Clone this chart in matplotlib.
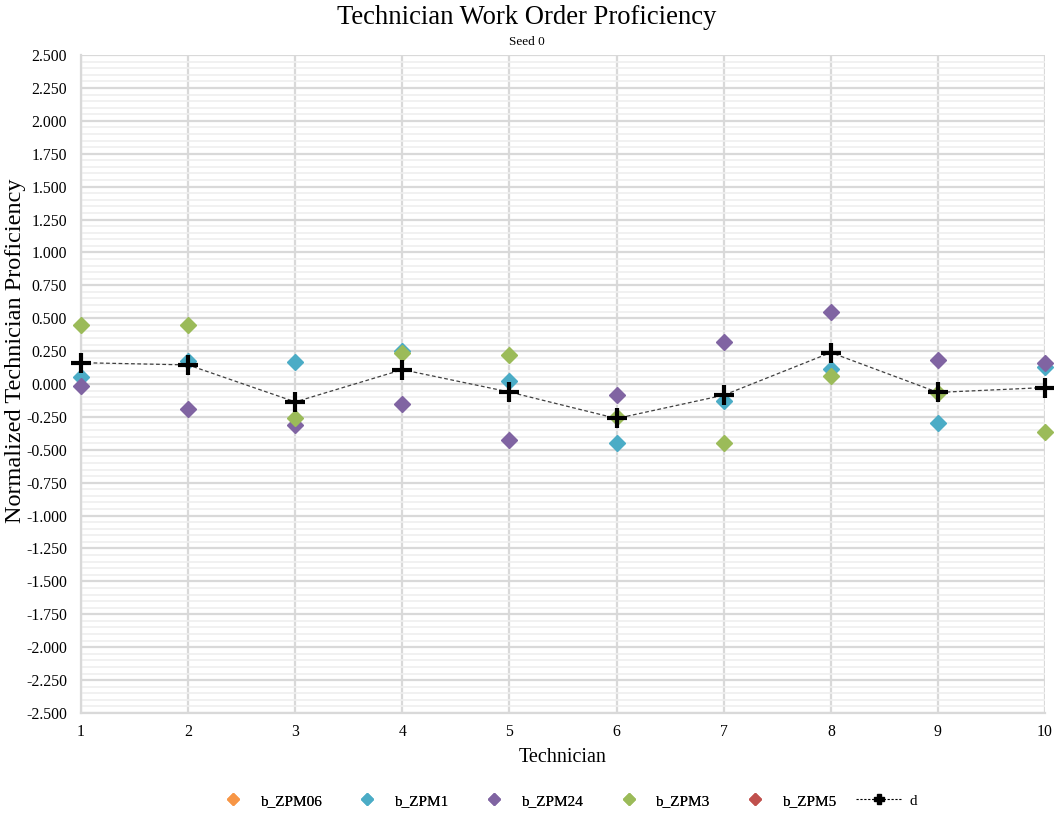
import matplotlib
matplotlib.use('Agg')
import matplotlib.pyplot as plt
from matplotlib.ticker import MultipleLocator, FormatStrFormatter

technicians = [1, 2, 3, 4, 5, 6, 7, 8, 9, 10]

b_zpm06 = []
b_zpm1 = [0.05, 0.175, 0.167, 0.25, 0.023, -0.45, -0.127, 0.112, -0.30, 0.127]
b_zpm24 = [-0.015, -0.19, -0.314, -0.155, -0.425, -0.084, 0.319, 0.545, 0.182, 0.157]
b_zpm3 = [0.45, 0.45, -0.26, 0.233, 0.22, -0.253, -0.446, 0.061, -0.071, -0.365]
b_zpm5 = []
d = [0.162, 0.145, -0.136, 0.109, -0.061, -0.262, -0.085, 0.239, -0.064, -0.027]

series = [
    ('b_ZPM06', b_zpm06, '#F79646'),
    ('b_ZPM1', b_zpm1, '#4BACC6'),
    ('b_ZPM24', b_zpm24, '#8064A2'),
    ('b_ZPM3', b_zpm3, '#9BBB59'),
    ('b_ZPM5', b_zpm5, '#C0504D'),
]

plt.rcParams['font.family'] = ['Liberation Serif', 'DejaVu Serif']

fig = plt.figure(figsize=(10.54, 8.14), dpi=100)
ax = fig.add_axes([0.0769, 0.1241, 0.9146, 0.8083])

for name, vals, col in series:
    xs = technicians[:len(vals)]
    ax.plot(xs, vals, linestyle='none', marker='D', markersize=8.5,
            color=col, label=name, zorder=3, clip_on=False)

ax.plot(technicians, d, color='#404040', linestyle=(0, (3, 2)), linewidth=0.9,
        zorder=4, clip_on=False)
ax.plot(technicians, d, linestyle='none', marker='+', markersize=14,
        markeredgewidth=3, color='black', zorder=5, clip_on=False)

ax.set_xlim(1, 10)
ax.set_ylim(-2.5, 2.5)
ax.xaxis.set_major_locator(MultipleLocator(1))
ax.yaxis.set_major_locator(MultipleLocator(0.25))
ax.yaxis.set_minor_locator(MultipleLocator(0.05))
ax.yaxis.set_major_formatter(FormatStrFormatter('%.3f'))

ax.grid(which='major', axis='both', color='#D9D9D9', linewidth=1.6, zorder=0)
ax.grid(which='minor', axis='y', color='#EFEFEF', linewidth=1.2, zorder=0)
ax.set_axisbelow(True)

for s in ['top', 'right']:
    ax.spines[s].set_visible(False)
for s in ['left', 'bottom']:
    ax.spines[s].set_color('#D9D9D9')
    ax.spines[s].set_linewidth(1.6)

ax.tick_params(which='both', length=0, labelsize=11.3, colors='black')
ax.tick_params(axis='y', pad=10)
ax.tick_params(axis='x', pad=8)

ax.set_xlabel('Technician', fontsize=14.5, labelpad=6)
ax.set_ylabel('Normalized Technician Proficiency', fontsize=17.5)
ax.yaxis.set_label_coords(-0.057, 0.55)

fig.text(0.5, 0.978, 'Technician Work Order Proficiency', ha='center',
         va='center', fontsize=19.2)
fig.text(0.5, 0.948, 'Seed 0', ha='center', va='center', fontsize=9.5)

# legend: scatter series as diamonds, d as dashed line with a cross
marker_handles = [plt.Line2D([], [], linestyle='none', marker='D',
                             markersize=6, color=col, label=name)
                  for name, vals, col in series]
d_handle = plt.Line2D([], [], color='black', linestyle=(0, (2, 1.5)),
                      linewidth=0.8, marker='P', markersize=7, label='d')

leg1 = fig.legend(handles=marker_handles, loc='center right',
                  bbox_to_anchor=(0.7935, 0.016), ncol=5, frameon=False,
                  fontsize=11, handlelength=1.2, handletextpad=1.15,
                  columnspacing=2.4, borderaxespad=0, borderpad=0)
fig.add_artist(leg1)
fig.legend(handles=[d_handle], loc='center left',
           bbox_to_anchor=(0.812, 0.016), frameon=False, fontsize=11,
           handlelength=3.0, handletextpad=0.5, borderaxespad=0, borderpad=0)

fig.savefig('out.png', dpi=100)
